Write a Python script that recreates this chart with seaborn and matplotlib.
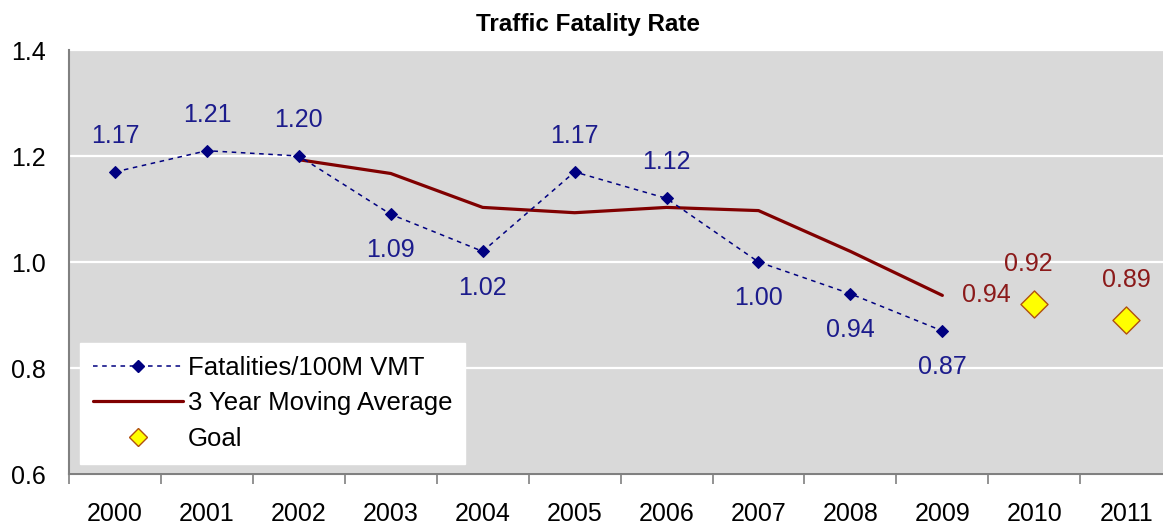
import matplotlib
matplotlib.use("Agg")
import matplotlib.pyplot as plt
import seaborn as sns
import pandas as pd
from matplotlib.ticker import FixedLocator, NullFormatter
from matplotlib.lines import Line2D

# ---- data ----
years = [2000, 2001, 2002, 2003, 2004, 2005, 2006, 2007, 2008, 2009, 2010, 2011]
fatality_years = [2000, 2001, 2002, 2003, 2004, 2005, 2006, 2007, 2008, 2009]
fatality_rate = [1.17, 1.21, 1.20, 1.09, 1.02, 1.17, 1.12, 1.00, 0.94, 0.87]
ma_years = [2002, 2003, 2004, 2005, 2006, 2007, 2008, 2009]
moving_avg = [1.193, 1.167, 1.103, 1.093, 1.103, 1.097, 1.02, 0.937]
goal_years = [2010, 2011]
goal_values = [0.92, 0.89]
fatality_label_pos = ["above", "above", "above", "below", "below", "above", "above", "below", "below", "below"]
yticks = [0.6, 0.8, 1.0, 1.2, 1.4]

NAVY = "#000080"
DARKRED = "#800000"
LABELRED = "#8B1A1A"
BG = "#D9D9D9"
FS = 18

sns.set_theme(style="white")
plt.rcParams["font.family"] = ["Liberation Sans", "DejaVu Sans"]

fig = plt.figure(figsize=(11.63, 5.25), dpi=100)
ax = fig.add_axes([69 / 1163, 51 / 525, 1 - 69 / 1163, 424 / 525])
ax.set_facecolor(BG)

df_f = pd.DataFrame({"year": fatality_years, "rate": fatality_rate})
df_m = pd.DataFrame({"year": ma_years, "avg": moving_avg})
df_g = pd.DataFrame({"year": goal_years, "goal": goal_values})

sns.lineplot(data=df_m, x="year", y="avg", ax=ax, color=DARKRED, linewidth=2.3, zorder=3)
sns.lineplot(data=df_f, x="year", y="rate", ax=ax, color=NAVY, linewidth=1.1,
             linestyle=(0, (3, 3)), marker="D", markersize=6, markeredgecolor=NAVY,
             markerfacecolor=NAVY, zorder=4)
sns.scatterplot(data=df_g, x="year", y="goal", ax=ax, marker="D", s=190,
                color="#FFFF00", edgecolor="#B05010", linewidth=1.0, zorder=5)

# labels
for x, y, pos in zip(fatality_years, fatality_rate, fatality_label_pos):
    off = 26 if pos == "above" else -26
    ax.annotate(f"{y:.2f}", (x, y), xytext=(0, off), textcoords="offset points",
                ha="center", va="center", color="#1C1C8C", fontsize=FS)
ax.annotate(f"{moving_avg[-1]:.2f}", (ma_years[-1], moving_avg[-1]), xytext=(14, 0),
            textcoords="offset points", ha="left", va="center", color=LABELRED, fontsize=FS)
for x, y in zip(goal_years, goal_values):
    ax.annotate(f"{y:.2f}", (x, y), xytext=(-4 if x == 2010 else 0, 29), textcoords="offset points",
                ha="center", va="center", color=LABELRED, fontsize=FS)

# axes
ax.set_ylim(0.6, 1.4)
ax.set_yticks(yticks)
ax.set_yticklabels([f"{v:.1f}" for v in yticks])
ax.set_xlim(1999.5, 2011.4)
ax.set_xticks(years)
ax.set_xticklabels([str(y) for y in years])
ax.xaxis.set_minor_locator(FixedLocator([y - 0.5 for y in years] + [2011.5]))
ax.xaxis.set_minor_formatter(NullFormatter())
ax.tick_params(axis="x", which="major", length=0, pad=20, labelsize=FS, colors="#000000")
ax.tick_params(axis="x", which="minor", length=7, width=1.2, color="#808080", direction="out", bottom=True)
ax.tick_params(axis="y", which="major", length=0, pad=17, labelsize=FS, colors="#000000")
ax.set_xlabel("")
ax.set_ylabel("")
ax.grid(axis="y", color="white", linewidth=1.6)
ax.grid(axis="x", visible=False)
ax.set_axisbelow(True)
for s in ["top", "right"]:
    ax.spines[s].set_visible(False)
for s in ["left", "bottom"]:
    ax.spines[s].set_color("#808080")
    ax.spines[s].set_linewidth(1.5)

handles = [
    Line2D([], [], color=NAVY, linewidth=1.1, linestyle=(0, (3, 3)), marker="D", markersize=6),
    Line2D([], [], color=DARKRED, linewidth=2.3),
    Line2D([], [], color="none", marker="D", markersize=9, markerfacecolor="#FFFF00",
           markeredgecolor="#B05010"),
]
leg = ax.legend(handles, ["Fatalities/100M VMT", "3 Year Moving Average", "Goal"],
                loc="lower left", bbox_to_anchor=(0.010, 0.024), borderaxespad=0,
                frameon=True, fancybox=False, framealpha=1, facecolor="white",
                edgecolor="white", fontsize=18.5, handlelength=3.5, handletextpad=0.2,
                labelspacing=0.45, borderpad=0.5)
for t in leg.get_texts():
    t.set_color("#000000")

fig.text(588 / 1163, 1 - 25 / 525, "Traffic Fatality Rate", ha="center", va="center",
         fontsize=17.5, fontweight="bold", color="#000000")

fig.savefig("out.png", dpi=100, facecolor="white")
